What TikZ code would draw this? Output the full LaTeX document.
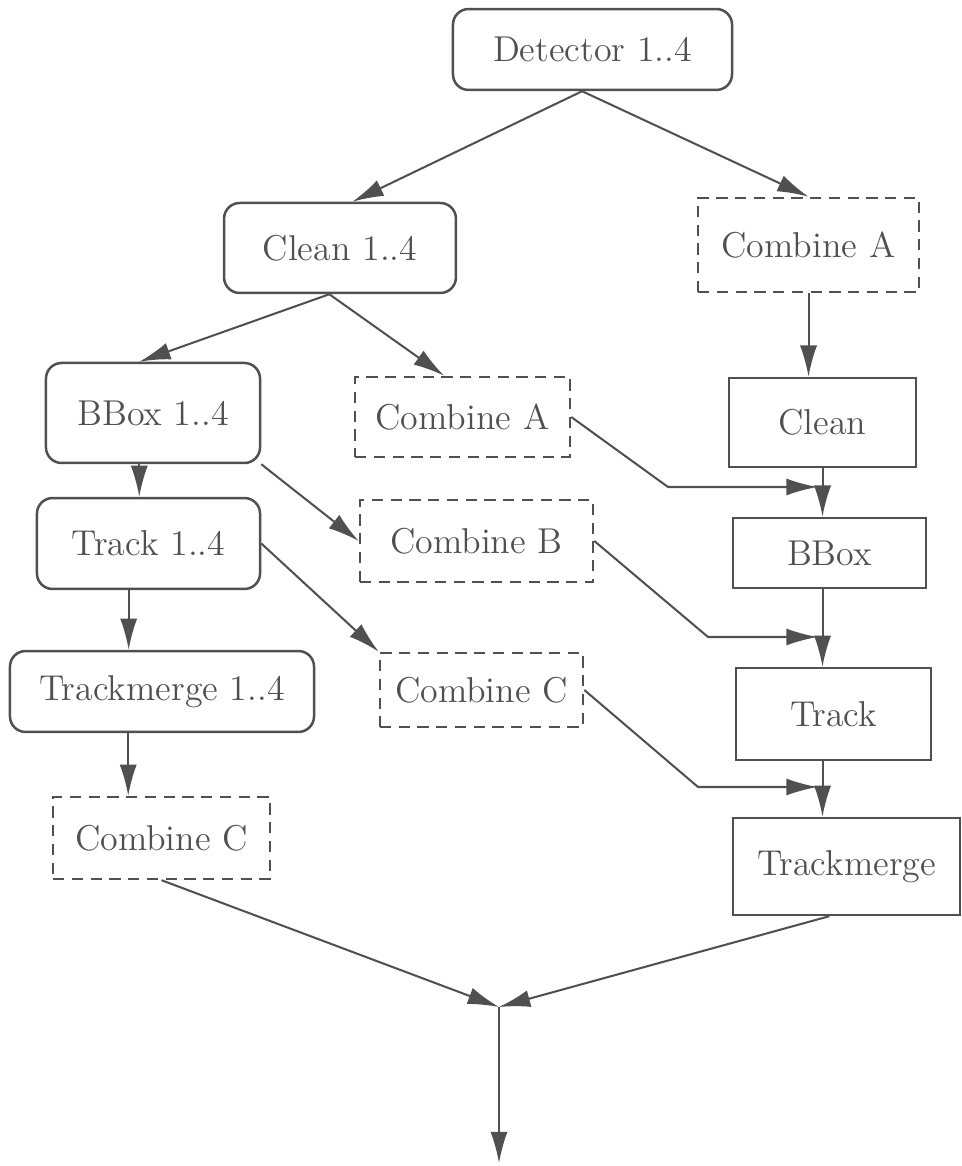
\documentclass[tikz,border=0pt]{standalone}
\usepackage{tikz}
\usetikzlibrary{arrows.meta,positioning,calc}
\definecolor{ink}{HTML}{505050}

\begin{document}
\begin{tikzpicture}[
    x=0.32pt, y=-0.32pt,
    box/.style={rectangle, draw=ink, line width=0.8pt, text=ink, inner sep=0pt, font=\fontsize{11.5}{14}\selectfont},
    rbox/.style={box, rounded corners=5pt},
    dbox/.style={box, dash pattern=on 3.6pt off 2.4pt},
    arrow/.style={draw=ink, line width=0.65pt, -{Latex[length=10pt,width=5.5pt]}}
]
\useasboundingbox (0,0) rectangle (961,1166);

% Nodes
\node[rbox, minimum width=89.3pt, minimum height=25.9pt] (det) at (592.5,49.5) {Detector 1..4};

\node[rbox, minimum width=74.2pt, minimum height=28.8pt] (clean4) at (340,248) {Clean 1..4};
\node[dbox, minimum width=70.7pt, minimum height=30.1pt] (combA1) at (808.5,245) {Combine A};

\node[rbox, minimum width=68.5pt, minimum height=32pt] (bbox4) at (153,413) {BBox 1..4};
\node[dbox, minimum width=68.8pt, minimum height=25.6pt] (combA2) at (462.5,417) {Combine A};
\node[box, minimum width=59.8pt, minimum height=28.5pt] (cleanR) at (822.5,422.5) {Clean};

\node[rbox, minimum width=71.4pt, minimum height=29.1pt] (track4) at (148.5,543.5) {Track 1..4};
\node[dbox, minimum width=74.6pt, minimum height=26.2pt] (combB) at (476.5,541) {Combine B};
\node[box, minimum width=61.8pt, minimum height=22.4pt] (bboxR) at (829.5,553) {BBox};

\node[rbox, minimum width=97.3pt, minimum height=25.9pt] (tm4) at (162,691.5) {Trackmerge 1..4};
\node[dbox, minimum width=65pt, minimum height=23.7pt] (combC1) at (481.5,690) {Combine C};
\node[box, minimum width=62.4pt, minimum height=29.4pt] (trackR) at (833.5,714) {Track};

\node[dbox, minimum width=69.4pt, minimum height=26.2pt] (combC2) at (161.5,838) {Combine C};
\node[box, minimum width=72.6pt, minimum height=31pt] (tmR) at (846.5,866.5) {Trackmerge};

% Junctions
\coordinate (jA) at (668,487);
\coordinate (jB) at (708,637);
\coordinate (jC) at (698,787);
\coordinate (merge) at (499,1007);
\coordinate (out) at (499,1163);

% Left branch
\draw[arrow] (det.256) -- (clean4.75);
\draw[arrow] (clean4.257) -- (bbox4.105);
\draw[arrow] (bbox4.255) -- (bbox4.255 |- track4.north);
\draw[arrow] (track4.247) -- (track4.247 |- tm4.north);
\draw[arrow] (tm4.231) -- (tm4.231 |- combC2.north);

% Combine steps
\draw[arrow] (clean4.257) -- (combA2.114);
\draw[arrow] (bbox4.south east) -- (combB.west);
\draw[arrow] (track4.east) -- (combC1.north west);

% Right branch
\draw[arrow] (det.256) -- (combA1.north);
\draw[arrow] (combA1.south) -- (combA1.south |- cleanR.north);
\draw[arrow] (cleanR.south) -- (cleanR.south |- bboxR.north);
\draw[arrow] (cleanR.south |- bboxR.south) -- (cleanR.south |- trackR.north);
\draw[arrow] (cleanR.south |- trackR.south) -- (cleanR.south |- tmR.north);

\draw[arrow] (combA2.east) -- (jA) -- ($(jA -| cleanR.south)+(-5,0)$);
\draw[arrow] (combB.east) -- (jB) -- ($(jB -| cleanR.south)+(-5,0)$);
\draw[arrow] (combC1.east) -- (jC) -- ($(jC -| cleanR.south)+(-5,0)$);

% Merge
\draw[arrow] (combC2.south) -- (merge);
\draw[arrow] (tmR.251) -- (merge);
\draw[arrow] (merge) -- (out);

\end{tikzpicture}
\end{document}
